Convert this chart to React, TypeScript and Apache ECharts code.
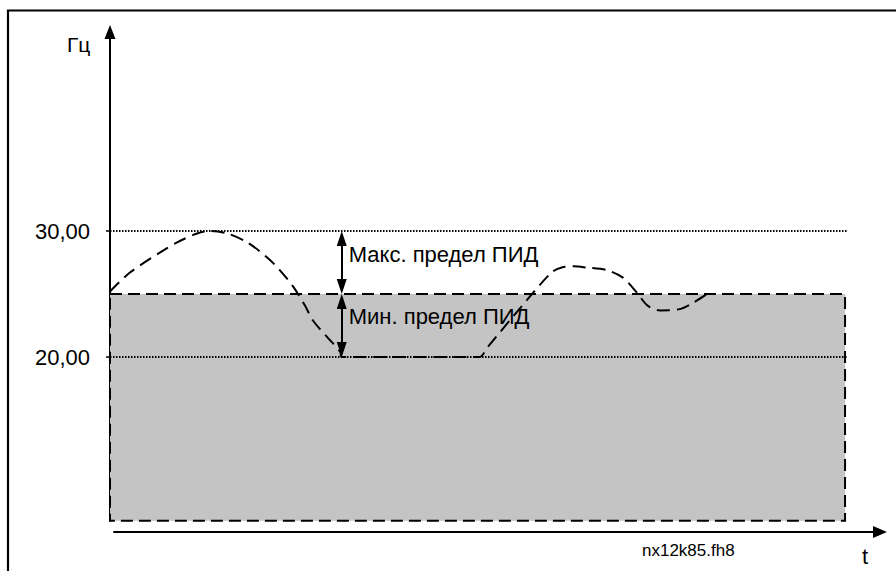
import React, { useEffect, useRef } from "react";
import * as echarts from "echarts";

// Curve (time, frequency in Гц)
const curveX = [0, 2.7, 6.8, 9.1, 11.8, 13.6, 15.9, 18.6, 21.3, 23.0, 24.8, 26.4, 27.5, 29.4, 31.2, 31.4, 49.2, 50.1, 51.2, 55.6, 59.8, 61.2, 62.9, 64.6, 67.3, 69.5, 71.4, 72.8, 74.5, 77.2, 79.0, 80.9];
const curveY = [25.2, 26.7, 28.3, 29.1, 29.8, 30.0, 29.8, 29.1, 27.9, 26.9, 25.6, 24.1, 22.9, 21.6, 20.4, 20.0, 20.0, 20.0, 20.8, 23.9, 26.7, 27.1, 27.2, 27.1, 26.9, 26.3, 25.1, 24.1, 23.7, 23.8, 24.3, 25.0];

const yTickValues = [20, 30];
const maxLimit = 30;
const minLimit = 20;
const midLevel = 25;
const bandBottom = 7;
const bandRightX = 99.6;
const arrowX = 31.4;
const labels = ["Макс. предел ПИД", "Мин. предел ПИД"];
const labelY = [28.1, 23.2];
const yAxisName = "Гц";
const xAxisName = "t";
const fileName = "nx12k85.fh8";

const FONT = "'Liberation Sans', Arial, sans-serif";

export default function App() {
  const ref = useRef<HTMLDivElement>(null);
  useEffect(() => {
    if (!ref.current) return;
    const chart = echarts.init(ref.current, null, { renderer: "svg" });
    const arrowInset = 0.6;
    chart.setOption({
      animation: false,
      backgroundColor: "#ffffff",
      grid: [
        { left: 110, right: 48, top: 31.92, bottom: 50.2 },
        { left: 114, right: 16, top: 500, bottom: 39 },
      ],
      xAxis: [
        { type: "value", gridIndex: 0, min: 0, max: 100, show: false },
        {
          type: "value",
          gridIndex: 1,
          min: 0,
          max: 1,
          axisLine: {
            show: true,
            symbol: ["none", "triangle"],
            symbolSize: [12, 14],
            lineStyle: { color: "#000", width: 2 },
          },
          axisTick: { show: false },
          axisLabel: { show: false },
          splitLine: { show: false },
        },
      ],
      yAxis: [
        {
          type: "value",
          gridIndex: 0,
          min: 7,
          max: 45.8,
          axisLine: {
            show: true,
            symbol: ["none", "triangle"],
            symbolSize: [11, 14],
            lineStyle: { color: "#000", width: 2 },
          },
          axisTick: {
            show: true,
            customValues: yTickValues,
            length: 4,
            lineStyle: { color: "#000", width: 1.5 },
          },
          axisLabel: {
            show: true,
            customValues: yTickValues,
            margin: 20,
            fontSize: 22,
            fontFamily: FONT,
            color: "#000",
            formatter: (v: number) => v.toFixed(2).replace(".", ","),
          },
          splitLine: { show: false },
        },
        { type: "value", gridIndex: 1, show: false, min: 0, max: 1 },
      ],
      series: [
        {
          type: "line",
          xAxisIndex: 0,
          yAxisIndex: 0,
          data: curveX.map((x, i) => [x, curveY[i]]),
          symbol: "none",
          smooth: 0.3,
          z: 5,
          lineStyle: { color: "#000", width: 2, type: [13, 7] },
          markArea: {
            silent: true,
            z: 1,
            itemStyle: {
              color: "#c4c4c4",
              borderColor: "#000",
              borderWidth: 2,
              borderType: [12, 6],
            },
            data: [[{ coord: [0, midLevel] }, { coord: [bandRightX, bandBottom] }]],
          },
          markLine: {
            silent: true,
            symbol: ["none", "none"],
            label: { show: false },
            lineStyle: { color: "#000", width: 2, type: [1.5, 1.5] },
            data: [{ yAxis: maxLimit }, { yAxis: minLimit }],
          },
        },
        {
          type: "line",
          xAxisIndex: 0,
          yAxisIndex: 0,
          data: [],
          z: 6,
          markLine: {
            silent: true,
            symbol: ["triangle", "triangle"],
            symbolSize: [10, 15],
            label: { show: false },
            lineStyle: { color: "#000", width: 2, type: "solid" },
            itemStyle: { color: "#000" },
            data: [
              [{ coord: [arrowX, maxLimit - arrowInset] }, { coord: [arrowX, midLevel + arrowInset] }],
              [{ coord: [arrowX, midLevel - arrowInset] }, { coord: [arrowX, minLimit + arrowInset] }],
            ],
          },
          markPoint: {
            silent: true,
            symbol: "circle",
            symbolSize: 0,
            label: {
              show: true,
              position: "right",
              distance: 7,
              formatter: "{b}",
              fontSize: 22,
              fontFamily: FONT,
              color: "#000",
            },
            data: labels.map((name, i) => ({ name, coord: [arrowX, labelY[i]] })),
          },
        },
      ],
      graphic: [
        {
          type: "rect",
          shape: { x: 8, y: 10.5, width: 1000, height: 1000 },
          style: { fill: "none", stroke: "#000", lineWidth: 2.2 },
          silent: true,
        },
        {
          type: "text",
          x: 67,
          y: 44,
          style: {
            text: yAxisName,
            fontSize: 21,
            fontFamily: FONT,
            fill: "#000",
            textVerticalAlign: "middle",
          },
        },
        {
          type: "text",
          x: 862,
          y: 556,
          style: {
            text: xAxisName,
            fontSize: 22,
            fontFamily: FONT,
            fill: "#000",
            textVerticalAlign: "middle",
          },
        },
        {
          type: "text",
          x: 642,
          y: 550,
          style: {
            text: fileName,
            fontSize: 17,
            fontFamily: FONT,
            fill: "#000",
            textVerticalAlign: "middle",
          },
        },
      ],
    });
    return () => chart.dispose();
  }, []);
  return (
    <div
      ref={ref}
      style={{ position: "fixed", left: 0, top: 0, width: 896, height: 571, background: "#fff" }}
    />
  );
}
